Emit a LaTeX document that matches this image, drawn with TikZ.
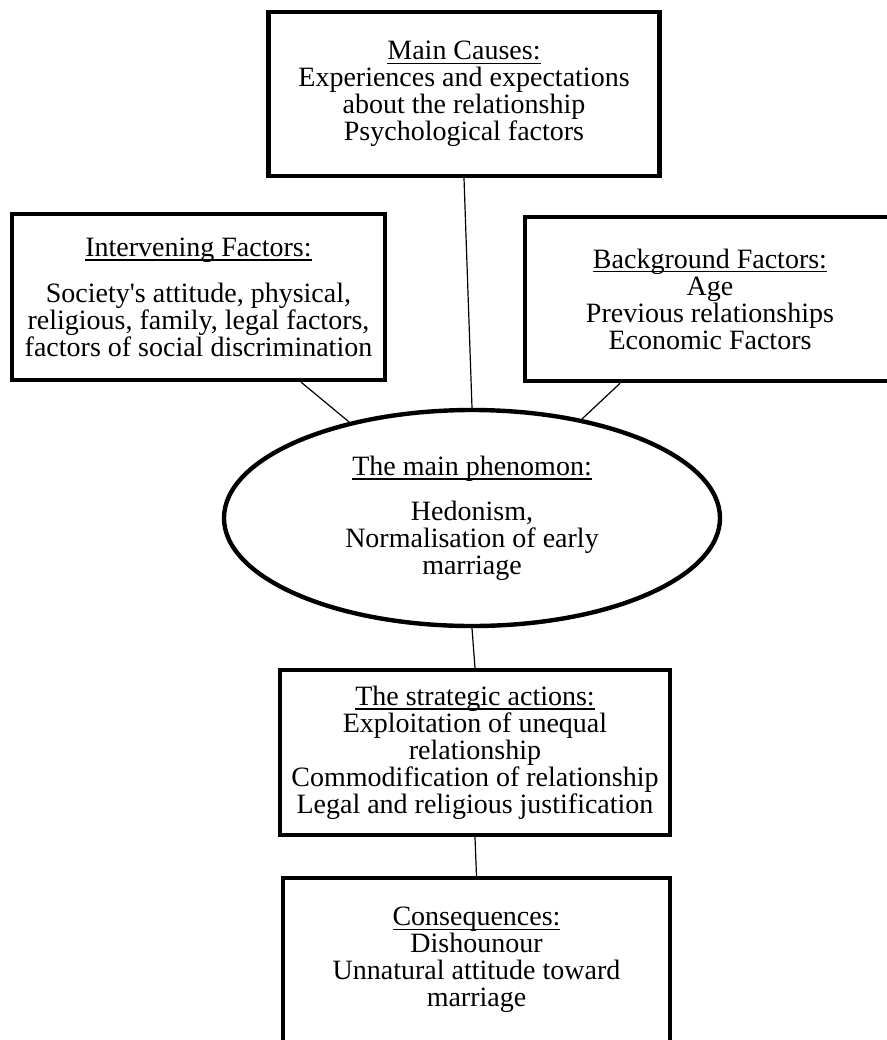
\documentclass[tikz,border=0pt]{standalone}
\usepackage{fontspec}
\setmainfont{Liberation Serif}
\usetikzlibrary{shapes.geometric}
\newcommand{\hdr}[1]{\setbox0=\hbox{#1}\rlap{\rule[-2.2pt]{\wd0}{0.8pt}}\box0}

\begin{document}
\begin{tikzpicture}[x=0.5pt, y=-0.5pt,
  every node/.style={align=center, inner sep=0pt, font={\fontsize{14}{13.5}\selectfont}},
  box/.style={draw, rectangle, line width=2.2pt},
  oval/.style={draw, ellipse, line width=2.2pt},
  link/.style={line width=0.6pt}]
\useasboundingbox (0,0) rectangle (887,1040);

\node[box, minimum width=195.5pt, minimum height=82pt] (causes) at (464,94)
  {\hdr{Main Causes:}\\ Experiences and expectations\\ about the relationship\\ Psychological factors};
\node[box, minimum width=186.5pt, minimum height=83pt] (interv) at (198.5,297)
  {\hdr{Intervening Factors:}\\[9.5pt] Society\textquotesingle s attitude, physical,\\ religious, family, legal factors,\\ factors of social discrimination};
\node[box, minimum width=185pt, minimum height=82pt] (backg) at (710,299)
  {\hdr{Background Factors:}\\ Age\\ Previous relationships\\ Economic Factors};

\node[oval, minimum width=248pt, minimum height=108pt] (phen) at (472,518)
  {\hdr{The main phenomon:}\\[9pt] Hedonism,\\ Normalisation of early\\ marriage};

\node[box, minimum width=195pt, minimum height=82.5pt] (strat) at (475,752.5)
  {\hdr{The strategic actions:}\\ Exploitation of unequal\\ relationship\\ Commodification of relationship\\ Legal and religious justification};
\node[box, minimum width=193.5pt, minimum height=82pt] (conseq) at (476.5,960)
  {\hdr{Consequences:}\\ Dishounour\\ Unnatural attitude toward\\ marriage};

\draw[link] (causes.south) -- (phen.north);
\draw[link] (interv) -- (phen.142);
\draw[link] (backg) -- (phen.42);
\draw[link] (phen.south) -- (strat.north);
\draw[link] (strat.south) -- (conseq.north);
\end{tikzpicture}
\end{document}
